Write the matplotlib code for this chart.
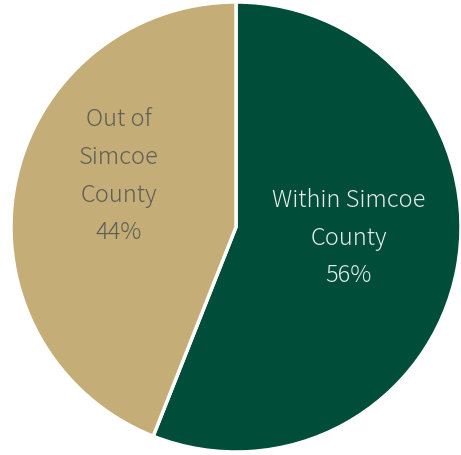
import matplotlib.pyplot as plt

labels = ['Within Simcoe\nCounty', 'Out of\nSimcoe\nCounty']
shares = [56, 44]
colors = ['#004d3a', '#c4ad76']
text_colors = ['#e6ece9', '#5e5e58']

plt.rcParams['font.family'] = ['Noto Sans CJK JP', 'DejaVu Sans']

fig = plt.figure(figsize=(4.61, 4.56), dpi=100)
ax = fig.add_axes([11 / 461, 3 / 456, 450 / 461, 450 / 456])

wedges, texts = ax.pie(shares, labels=[f'{l}\n{s}%' for l, s in zip(labels, shares)],
                       colors=colors, startangle=90, counterclock=False,
                       labeldistance=0.5, radius=1,
                       wedgeprops=dict(edgecolor='white', linewidth=2.5),
                       textprops=dict(fontsize=17, fontweight='light', ha='center',
                                      va='center', linespacing=1.67))

for t, c in zip(texts, text_colors):
    t.set_color(c)
    t.set_horizontalalignment('center')
texts[0].set_position((0.50, -0.045))
texts[1].set_position((-0.52, 0.23))

ax.set_xlim(-1.0, 1.0)
ax.set_ylim(-1.0, 1.0)
ax.set_aspect('equal')
ax.axis('off')

fig.savefig('out.png', dpi=100)
